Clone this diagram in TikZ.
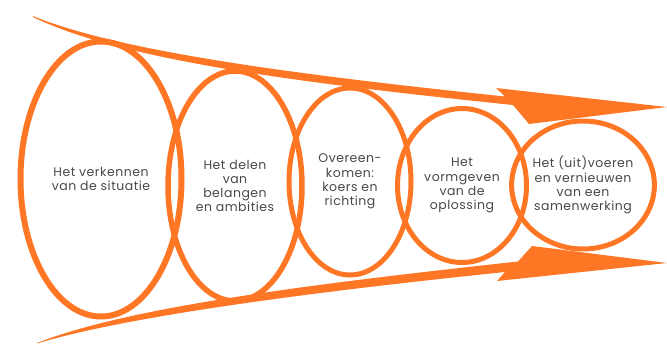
\documentclass[tikz,border=0pt]{standalone}
\usepackage{fontspec}
\setmainfont{Poppins}[LetterSpace=4]
\usetikzlibrary{shapes.geometric}
\definecolor{funnel}{RGB}{255,118,36}
\definecolor{inktext}{RGB}{72,72,72}

\begin{document}
\begin{tikzpicture}[x=1pt, y=-1pt,
  stage/.style={draw=funnel, ellipse, line width=5pt, inner sep=0pt, align=center, text=inktext, font=\fontsize{12.5}{14.2}\selectfont},
  band/.style={fill=funnel, draw=none}
]
\useasboundingbox (0,0) rectangle (667,343);

% upper and lower tapered arrows
\fill[band] (33,16) .. controls (123,53) and (310,76) .. (505,96.5) -- (496,88) -- (667,107) -- (529,124) -- (513,105) .. controls (310,84) and (123,61) .. (33,17) -- cycle;
\fill[band] (37,343) .. controls (128,307) and (312,284) .. (518,261.5) -- (532,246) -- (667,263) -- (497,281) -- (505,272) .. controls (312,292) and (128,316) .. (37,343.5) -- cycle;

% the five stages
\node[stage, line width=6pt, minimum width=161, minimum height=275] (e1) at (101,179) {Het verkennen\\van de situatie};
\node[stage, line width=5.5pt, minimum width=134, minimum height=230] (e2) at (235,186) {Het delen\\van\\belangen\\en ambities};
\node[stage, minimum width=122, minimum height=187] (e3) at (350,181.5) {Overeen-\\komen:\\koers en\\richting};
\node[stage, minimum width=129, minimum height=154] (e4) at (462,185.5) {Het\\vormgeven\\van de\\oplossing};
\node[stage, minimum width=140, minimum height=128] (e5) at (583,185) {Het (uit)voeren\\en vernieuwen\\van een\\samenwerking};
\end{tikzpicture}
\end{document}
